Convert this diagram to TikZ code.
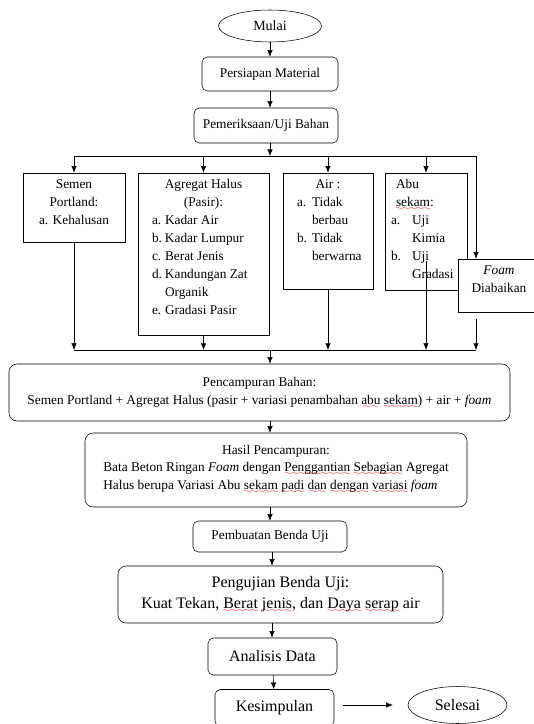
\documentclass[tikz,border=0pt]{standalone}
\usepackage{fontspec}
\setmainfont{Liberation Serif}
\usetikzlibrary{shapes.geometric,arrows.meta}

\font\sixly=lasy6
\newsavebox{\kata}
\newcommand{\salah}[1]{\sbox{\kata}{#1}\rlap{\raisebox{-3pt}[0pt][0pt]{\color{red}\hbox to\wd\kata{\xleaders\hbox{\sixly\char58}\hfill}}}\usebox{\kata}}
\newcommand{\isi}[3]{\parbox[c][#1][t]{#2}{\vspace*{5pt}#3}}
\newcommand{\huruf}[2][9.75pt]{\makebox[#1][l]{#2}}
\newcommand{\besar}{\fontsize{12}{16}\selectfont}

\begin{document}
\begin{tikzpicture}[x=0.75pt,y=-0.75pt]\tikzstyle{every node}=[font=\fontsize{10}{13.5}\selectfont]
\tikzstyle{proses}=[draw,rounded corners=4pt,inner sep=0pt,align=center,fill=white]
\tikzstyle{kotak}=[draw,rectangle,inner sep=0pt,fill=white]
\tikzstyle{terminal}=[draw,ellipse,inner sep=0pt]
\tikzstyle{panah}=[-{Latex[length=5pt,width=4pt]}]
\useasboundingbox (0,0) rectangle (534,724);
\node[terminal,minimum width=77.25pt,minimum height=24pt,font=\fontsize{10.5}{13.5}\selectfont] at (270,26) (mulai) {Mulai};
\node[proses,minimum width=102pt,minimum height=25.5pt] at (270,74) (persiapan) {Persiapan Material};
\node[proses,minimum width=108pt,minimum height=26.25pt] at (266,125.5) (periksa) {Pemeriksaan/Uji Bahan};
\node[kotak] at (74,207.5) (semen) {\isi{51.75pt}{76.5pt}{\centering Semen\\Portland:\\a. Kehalusan}};
\node[kotak] at (203.5,254) (agregat) {\isi{121.5pt}{98.25pt}{\centering Agregat Halus\\(Pasir):\par
  \raggedright\leftskip=10.5pt \huruf{a.}Kadar Air\\\huruf{b.}Kadar Lumpur\\\huruf{c.}Berat Jenis\\
  \huruf{d.}Kandungan Zat\\\hspace*{9.75pt}Organik\\\huruf{e.}Gradasi Pasir}};
\node[kotak] at (328,231) (air) {\isi{87pt}{67.5pt}{\centering Air :\par
  \raggedright\leftskip=10.5pt \huruf[11.25pt]{a.}Tidak\\\hspace*{11.25pt}berbau\\
  \huruf[11.25pt]{b.}Tidak\\\hspace*{11.25pt}berwarna}};
\node[kotak] at (426,231.5) (abu) {\isi{87.75pt}{61.5pt}{\raggedright\leftskip=4.5pt
  \hspace*{3.75pt}Abu\\\hspace*{3.75pt}\salah{sekam}:\\\huruf[15.75pt]{a.}Uji\\\hspace*{15.75pt}Kimia\\
  \huruf[15.75pt]{b.}Uji\\\hspace*{15.75pt}Gradasi}};
\node[kotak] at (499,285.5) (foam) {\isi{39.75pt}{61.5pt}{\centering\textit{Foam}\\Diabaikan}};
\node[proses,rounded corners=6pt,minimum width=375.75pt,minimum height=42.75pt] at (259.5,392.5) (campur)
  {Pencampuran Bahan:\\Semen Portland + Agregat Halus (pasir + variasi penambahan \salah{abu} \salah{sekam}) + air + \textit{foam}};
\node[proses,rounded corners=6pt,minimum width=286.5pt,minimum height=55.5pt] at (276,470) (hasil)
  {Hasil Pencampuran:\\\begin{tabular}{@{}l@{}}Bata Beton Ringan \textit{Foam} dengan \salah{Penggantian} \salah{Sebagian} Agregat\\
  Halus berupa Variasi Abu \salah{sekam} \salah{padi} \salah{dan} \salah{dengan} \salah{variasi} \textit{foam}\end{tabular}};
\node[proses,minimum width=115.5pt,minimum height=23.25pt] at (270,536.5) (pembuatan) {Pembuatan Benda Uji};
\node[proses,rounded corners=6pt,minimum width=243.75pt,minimum height=42.75pt,font=\besar] at (280.5,594.5) (uji)
  {Pengujian Benda Uji:\\Kuat Tekan, \salah{Berat} \salah{jenis}, dan \salah{Daya} \salah{serap} air};
\node[proses,minimum width=96.75pt,minimum height=27.75pt,font=\besar] at (272.5,656.5) (analisis) {Analisis Data};
\node[proses,minimum width=89.25pt,minimum height=27.75pt,font=\besar] at (274.5,708) (kesimpulan) {Kesimpulan};
\node[terminal,minimum width=74.25pt,minimum height=27.75pt,font=\besar] at (457.5,705) (selesai) {Selesai};
% titik bantu garis bagi dan garis kumpul
\coordinate (bagi) at (270,156);
\coordinate (bagiKiri) at (74,156);
\coordinate (bagiKanan) at (476,156);
\coordinate (kumpul) at (270,350);
\coordinate (kumpulKiri) at (74,350);
\coordinate (kumpulKanan) at (476,350);
\coordinate (tengah) at (272,0);
\draw[panah] (mulai) -- (persiapan);
\draw[panah] (persiapan) -- (periksa.north -| persiapan);
\draw[panah] (periksa.south -| bagi) -- (bagi);
\draw (bagiKiri) -- (bagiKanan);
\draw[panah] (bagiKiri) -- (semen);
\draw[panah] (agregat |- bagi) -- (agregat);
\draw[panah] (air |- bagi) -- (air);
\draw[panah] (abu |- bagi) -- (abu);
\draw[panah] (bagiKanan) -- (foam.north -| bagiKanan);
\draw[panah] (semen) -- (semen |- kumpul);
\draw[panah] (agregat) -- (agregat |- kumpul);
\draw[panah] (air) -- (air |- kumpul);
\draw[panah,shorten <=-22pt] (abu) -- (abu |- kumpul);
\draw[panah,shorten <=5pt] (foam.south -| bagiKanan) -- (kumpulKanan);
\draw (kumpulKiri) -- (kumpulKanan);
\draw[panah] (kumpul) -- (campur.north -| kumpul);
\draw[panah] (campur.south -| kumpul) -- (hasil.north -| kumpul);
\draw[panah] (hasil.south -| kumpul) -- (pembuatan);
\draw[panah] (pembuatan.south -| tengah) -- (uji.north -| tengah);
\draw[panah] (uji.south -| tengah) -- (analisis.north -| tengah);
\draw[panah] (analisis) -- (kesimpulan);
\draw[panah,shorten <=6.75pt,shorten >=11.25pt] (kesimpulan.east |- selesai) -- (selesai.west);
\end{tikzpicture}
\end{document}
